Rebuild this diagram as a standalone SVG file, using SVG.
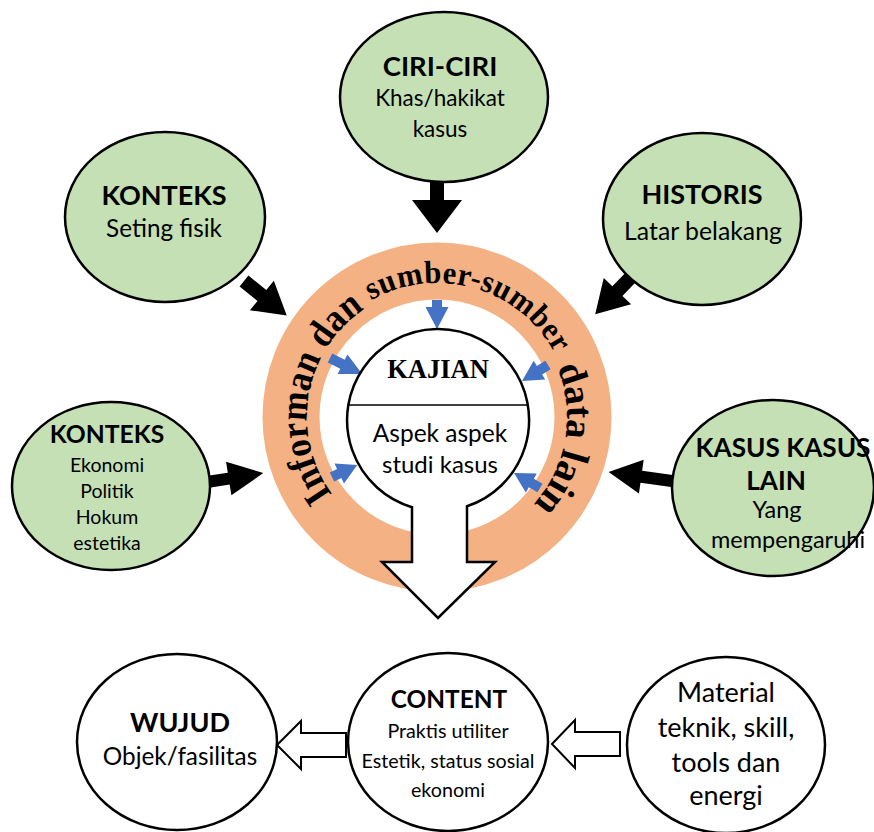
<svg xmlns="http://www.w3.org/2000/svg" width="874" height="832" viewBox="0 0 874 832">
<defs>
<style>
.g{fill:#C5E0B4;stroke:#000;stroke-width:2.5}
.w{fill:#fff;stroke:#000;stroke-width:2.5}
.t{font-family:Lato,"Liberation Sans",sans-serif;fill:#000;text-anchor:middle}
.b{font-weight:bold}
.blk{fill:#000}
.blu{fill:#4472C4}
.hol{fill:#fff;stroke:#000;stroke-width:2}
.arc{font-family:"Liberation Serif","Times New Roman",serif;font-weight:bold;fill:#000}
</style>
<path id="arcPath" d="M337.4,500.6 A130,130 0 1 1 459.6,545"/>
</defs>

<g id="ring">
<circle cx="437" cy="417" r="146" fill="none" stroke="#F4B183" stroke-width="57"/>
<text class="arc" font-size="39"><textPath href="#arcPath" startOffset="8" textLength="210" lengthAdjust="spacingAndGlyphs">Informan dan</textPath></text>
<text class="arc" font-size="32"><textPath href="#arcPath" startOffset="228"><tspan dy="-4" textLength="108" lengthAdjust="spacingAndGlyphs">sumber-</tspan></textPath></text>
<text class="arc" font-size="32"><textPath href="#arcPath" startOffset="336"><tspan dy="-4" textLength="99" lengthAdjust="spacingAndGlyphs">sumber</tspan></textPath></text>
<text class="arc" font-size="38"><textPath href="#arcPath" startOffset="448">data</textPath></text>
<text class="arc" font-size="40"><textPath href="#arcPath" startOffset="530">lain</textPath></text>
</g>

<g id="connectors">
<polygon class="blk" transform="translate(437,182) rotate(90)" points="0,-7 18,-7 18,-25 51,0 18,25 18,7 0,7"/>
<polygon class="blk" transform="translate(244,281) rotate(39)" points="0,-7 23,-7 23,-19 55,0 23,19 23,7 0,7"/>
<polygon class="blk" transform="translate(632,276) rotate(134)" points="0,-7 21,-7 21,-19 53,0 21,19 21,7 0,7"/>
<polygon class="blk" transform="translate(207,482) rotate(-9)" points="0,-6 22,-6 22,-17 57,0 22,17 22,6 0,6"/>
<polygon class="blk" transform="translate(672,481) rotate(188)" points="0,-6 31,-6 31,-17 64,0 31,17 31,6 0,6"/>
<polygon class="blu" transform="translate(437,300) rotate(90)" points="0,-5 7,-5 7,-11.5 29,0 7,11.5 7,5 0,5"/>
<polygon class="blu" transform="translate(330,358) rotate(26.6)" points="0,-5 14,-5 14,-11 36,0 14,11 14,5 0,5"/>
<polygon class="blu" transform="translate(548,365) rotate(148.4)" points="0,-5 10,-5 10,-11 30.5,0 10,11 10,5 0,5"/>
<polygon class="blu" transform="translate(332,477) rotate(-25.6)" points="0,-5 8,-5 8,-11 28,0 8,11 8,5 0,5"/>
<polygon class="blu" transform="translate(540,488) rotate(210)" points="0,-5 10,-5 10,-11 30,0 10,11 10,5 0,5"/>
<polygon class="hol" points="277,745 301,721 301,733 346,733 346,757 301,757 301,769"/>
<polygon class="hol" points="552,744 575,720 575,732 620,732 620,756 575,756 575,768"/>
</g>

<g id="kajian">
<path class="w" d="M412,507.2 A91,91 0 1 1 467,506.3 L467,562 L495,562 L438,618 L382,562 L412,562 Z"/>
<line x1="348.5" y1="405" x2="527.5" y2="405" stroke="#000" stroke-width="1.5"/>
<text class="t" x="438" y="378" style="font-family:'Liberation Serif','Times New Roman',serif;font-weight:bold;font-size:26.5px">KAJIAN</text>
<text class="t" x="440" y="442" font-size="24.5">Aspek aspek</text>
<text class="t" x="440" y="473" font-size="24">studi kasus</text>
</g>

<g id="ciri">
<ellipse class="g" cx="444" cy="97" rx="104" ry="85"/>
<text class="t b" x="440" y="76" font-size="27.5">CIRI-CIRI</text>
<text class="t" x="440" y="106" font-size="22.5">Khas/hakikat</text>
<text class="t" x="440" y="137" font-size="22.5">kasus</text>
</g>

<g id="konteks-fisik">
<ellipse class="g" cx="165" cy="217" rx="100" ry="85"/>
<text class="t b" x="164" y="205" font-size="27">KONTEKS</text>
<text class="t" x="164" y="237" font-size="24.3">Seting fisik</text>
</g>

<g id="historis">
<ellipse class="g" cx="702" cy="219" rx="99" ry="86"/>
<text class="t b" x="702" y="204" font-size="27">HISTORIS</text>
<text class="t" x="703" y="240" font-size="24.8">Latar belakang</text>
</g>

<g id="konteks-ekonomi">
<ellipse class="g" cx="111" cy="486" rx="99" ry="84"/>
<text class="t b" x="107" y="443" font-size="24.7">KONTEKS</text>
<text class="t" x="107" y="472" font-size="19.5">Ekonomi</text>
<text class="t" x="107" y="498" font-size="19.5">Politik</text>
<text class="t" x="107" y="524" font-size="19.5">Hokum</text>
<text class="t" x="107" y="550" font-size="19.5">estetika</text>
</g>

<g id="kasus">
<ellipse class="g" cx="773" cy="488" rx="101" ry="88"/>
<text class="t b" x="783" y="457" font-size="26.2">KASUS KASUS</text>
<text class="t b" x="776" y="490" font-size="26.2">LAIN</text>
<text class="t" x="777" y="518" font-size="23.5">Yang</text>
<text class="t" x="788" y="548" font-size="23.5">mempengaruhi</text>
</g>

<g id="wujud">
<ellipse class="w" cx="177" cy="742" rx="100" ry="88"/>
<text class="t b" x="180" y="732" font-size="27">WUJUD</text>
<text class="t" x="180" y="765" font-size="24.3">Objek/fasilitas</text>
</g>

<g id="content">
<ellipse class="w" cx="448" cy="742" rx="100" ry="89"/>
<text class="t b" x="449" y="708" font-size="24.4">CONTENT</text>
<text class="t" x="448" y="738" font-size="19.7">Praktis utiliter</text>
<text class="t" x="448" y="768" font-size="19.7">Estetik, status sosial</text>
<text class="t" x="448" y="797" font-size="19.7">ekonomi</text>
</g>

<g id="material">
<ellipse class="w" cx="726" cy="745" rx="99" ry="88"/>
<text class="t" x="726" y="702" font-size="27">Material</text>
<text class="t" x="726" y="737" font-size="27">teknik, skill,</text>
<text class="t" x="726" y="772" font-size="27">tools dan</text>
<text class="t" x="726" y="805" font-size="27">energi</text>
</g>
</svg>
